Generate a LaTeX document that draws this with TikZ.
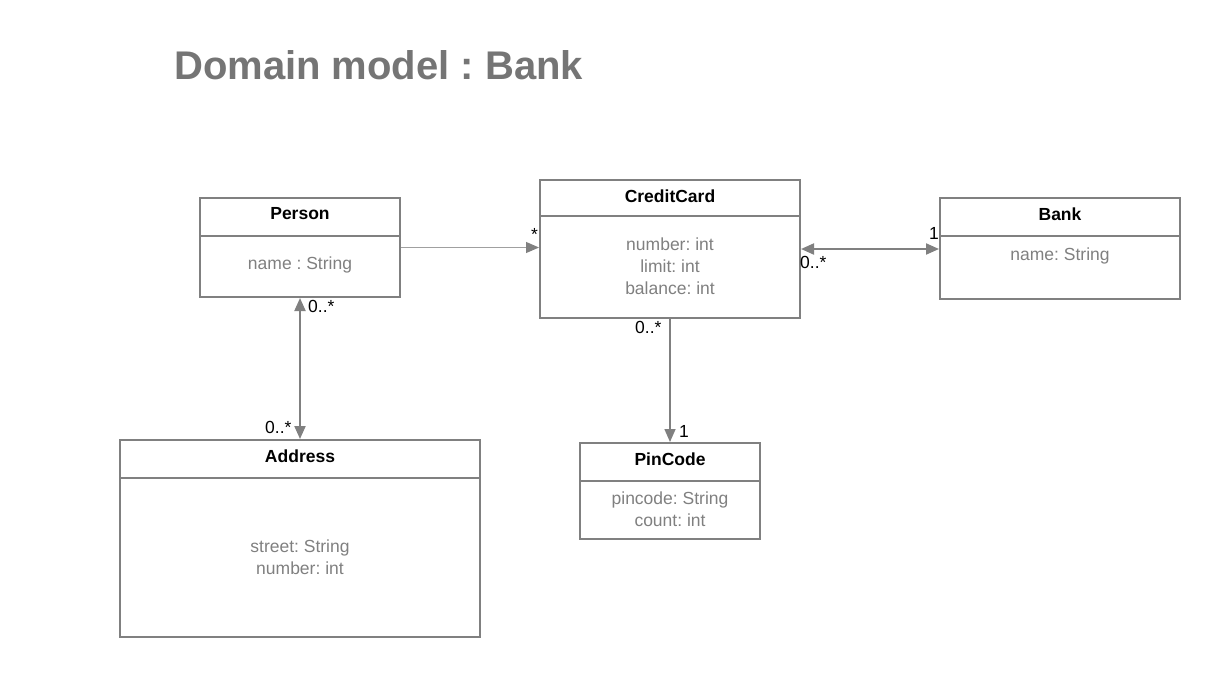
\documentclass[tikz,border=0pt]{standalone}
\usepackage{fontspec}
\setmainfont{Liberation Sans}
\usetikzlibrary{arrows.meta}
\definecolor{linegray}{RGB}{128,128,128}
\definecolor{textgray}{RGB}{128,128,128}
\definecolor{titlegray}{RGB}{117,117,117}
\definecolor{thingray}{RGB}{160,160,160}
\frenchspacing
\begin{document}
\begin{tikzpicture}[x=1pt,y=-1pt,
  box/.style={draw=linegray,line width=2pt,rectangle,inner sep=0pt},
  head/.style={font=\fontsize{17.5}{20}\selectfont\bfseries,text=black,inner sep=0pt},
  attr/.style={font=\fontsize{17.5}{22}\selectfont,text=textgray,align=center,inner sep=0pt},
  mult/.style={font=\fontsize{17.5}{20}\selectfont,text=black,inner sep=0pt,anchor=base west},
  divider/.style={draw=linegray,line width=2pt},
  assoc/.style={draw=linegray,line width=2pt},
]
\useasboundingbox (0,0) rectangle (1220,678);
\fill[white] (0,0) rectangle (1220,678);

\node[anchor=base west,font=\fontsize{40}{44}\selectfont\bfseries,text=titlegray,inner sep=0pt] (title) at (174,79) {\frenchspacing Domain model : Bank};

% Person
\node[box,minimum width=200pt,minimum height=99pt] (person) at (300,247.5) {};
\node[head] (personh) at (300,214) {Person};
\draw[divider] (200,236) -- (400,236);
\node[attr] (persona) at (300,265) {\frenchspacing name : String};

% CreditCard
\node[box,minimum width=260pt,minimum height=138pt] (cc) at (670,249) {};
\node[head] (cch) at (670,196) {CreditCard};
\draw[divider] (540,216) -- (800,216);
\node[attr] (cca) at (670,266) {\frenchspacing number: int\\limit: int\\balance: int};

% Bank
\node[box,minimum width=240pt,minimum height=101pt] (bank) at (1060,248.5) {};
\node[head] (bankh) at (1060,214) {Bank};
\draw[divider] (940,236) -- (1180,236);
\node[attr] (banka) at (1060,256) {\frenchspacing name: String};

% Address
\node[box,minimum width=360pt,minimum height=197pt] (address) at (300,538.5) {};
\node[head] (addressh) at (300,456) {Address};
\draw[divider] (120,478) -- (480,478);
\node[attr] (addressa) at (300,557) {\frenchspacing street: String\\number: int};

% PinCode
\node[box,minimum width=180pt,minimum height=96pt] (pin) at (670,491) {};
\node[head] (pinh) at (670,459) {PinCode};
\draw[divider] (580,481) -- (760,481);
\node[attr] (pina) at (670,509) {\frenchspacing pincode: String\\count: int};

% connectors
\draw[draw=thingray,line width=1pt,-{Triangle[length=13pt,width=11pt,fill=linegray,color=linegray]}] (person.east) -- (person.east -| cc.west);
\draw[assoc,{Triangle[length=13pt,width=11pt]}-{Triangle[length=13pt,width=11pt]}] (cc.east) -- (cc.east -| bank.west);
\draw[assoc,{Triangle[length=13pt,width=11pt]}-{Triangle[length=13pt,width=11pt]}] (person.south) -- (address.north);
\draw[draw=linegray,line width=1.5pt,-{Triangle[length=13pt,width=11pt]}] (cc.south) -- (pin.north);

% multiplicities
\node[mult] (m1) at (531,240) {*};
\node[mult] (m2) at (929,239) {1};
\node[mult] (m3) at (800,268) {0..*};
\node[mult] (m4) at (308,312) {0..*};
\node[mult] (m5) at (265,433) {0..*};
\node[mult] (m6) at (635,333) {0..*};
\node[mult] (m7) at (679,437) {1};
\end{tikzpicture}
\end{document}
